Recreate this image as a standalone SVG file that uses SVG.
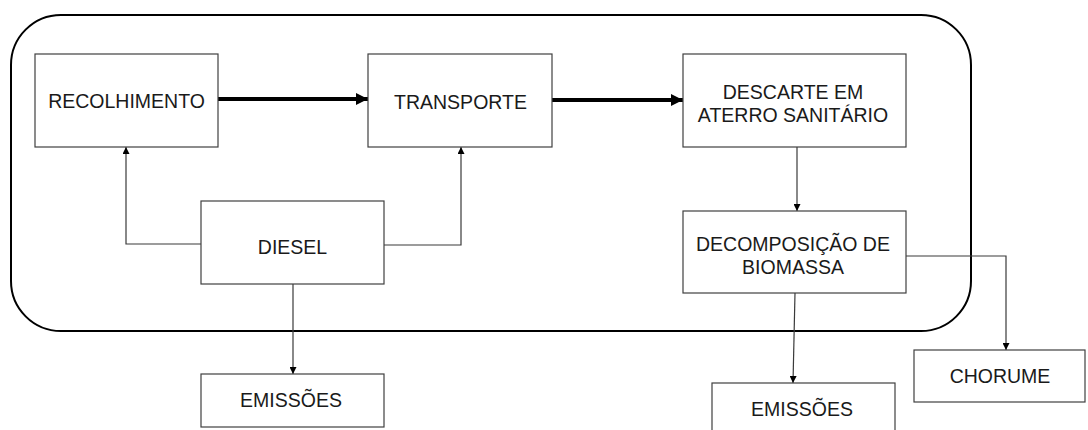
<svg xmlns="http://www.w3.org/2000/svg" width="1088" height="430" viewBox="0 0 1088 430">
  <defs>
    <marker id="headBig" viewBox="0 0 10 10" refX="10" refY="5" markerWidth="3" markerHeight="3" markerUnits="strokeWidth" orient="auto">
      <path d="M0,0 L10,5 L0,10 z" fill="#000"/>
    </marker>
    <marker id="headSmall" viewBox="0 0 10 10" refX="10" refY="5" markerWidth="8" markerHeight="7" markerUnits="userSpaceOnUse" orient="auto">
      <path d="M0,0 L10,5 L0,10 z" fill="#000"/>
    </marker>
    <style>
      .box { fill: #fff; stroke: #404040; stroke-width: 1.2; }
      .frame { fill: none; stroke: #000; stroke-width: 2; }
      .thick { fill: none; stroke: #000; stroke-width: 4; marker-end: url(#headBig); }
      .thin { fill: none; stroke: #3a3a3a; stroke-width: 1.2; marker-end: url(#headSmall); }
      .lbl { font-family: "Liberation Sans", Arial, sans-serif; font-size: 19.5px; fill: #1a1a1a; text-anchor: middle; }
    </style>
  </defs>

  <rect width="1088" height="430" fill="#fff"/>

  <!-- system boundary -->
  <rect id="boundary" class="frame" x="11" y="15" width="960" height="316" rx="50" ry="50"/>

  <g id="connectors">
    <line class="thick" x1="218" y1="99" x2="368" y2="99"/>
    <line class="thick" x1="552" y1="100" x2="683" y2="100"/>
    <polyline class="thin" points="201,244 126,244 126,147"/>
    <polyline class="thin" points="384,245 461,245 461,147"/>
    <line class="thin" x1="293" y1="284" x2="293" y2="374"/>
    <line class="thin" x1="797" y1="147" x2="797" y2="211"/>
    <polyline class="thin" points="906,256 1006,256 1006,350"/>
    <line class="thin" x1="795" y1="293" x2="793" y2="383"/>
  </g>

  <g id="recolhimento">
    <rect class="box" x="35" y="54" width="183" height="93"/>
    <text class="lbl" x="126.5" y="108">RECOLHIMENTO</text>
  </g>

  <g id="transporte">
    <rect class="box" x="368" y="54" width="184" height="93"/>
    <text class="lbl" x="460.5" y="109">TRANSPORTE</text>
  </g>

  <g id="descarte">
    <rect class="box" x="683" y="54" width="223" height="93"/>
    <text class="lbl" x="793" y="99">DESCARTE EM</text>
    <text class="lbl" x="793" y="122">ATERRO SANITÁRIO</text>
  </g>

  <g id="diesel">
    <rect class="box" x="201" y="201" width="183" height="83"/>
    <text class="lbl" x="292.5" y="254">DIESEL</text>
  </g>

  <g id="decomposicao">
    <rect class="box" x="683" y="211" width="223" height="82"/>
    <text class="lbl" x="793" y="251">DECOMPOSIÇÃO DE</text>
    <text class="lbl" x="793" y="274">BIOMASSA</text>
  </g>

  <g id="emissoes-diesel">
    <rect class="box" x="201" y="374" width="183" height="53"/>
    <text class="lbl" x="291" y="407">EMISSÕES</text>
  </g>

  <g id="emissoes-biomassa">
    <rect class="box" x="712" y="383" width="183" height="60"/>
    <text class="lbl" x="802" y="416">EMISSÕES</text>
  </g>

  <g id="chorume">
    <rect class="box" x="914" y="350" width="171" height="52"/>
    <text class="lbl" x="1000" y="383">CHORUME</text>
  </g>
</svg>
